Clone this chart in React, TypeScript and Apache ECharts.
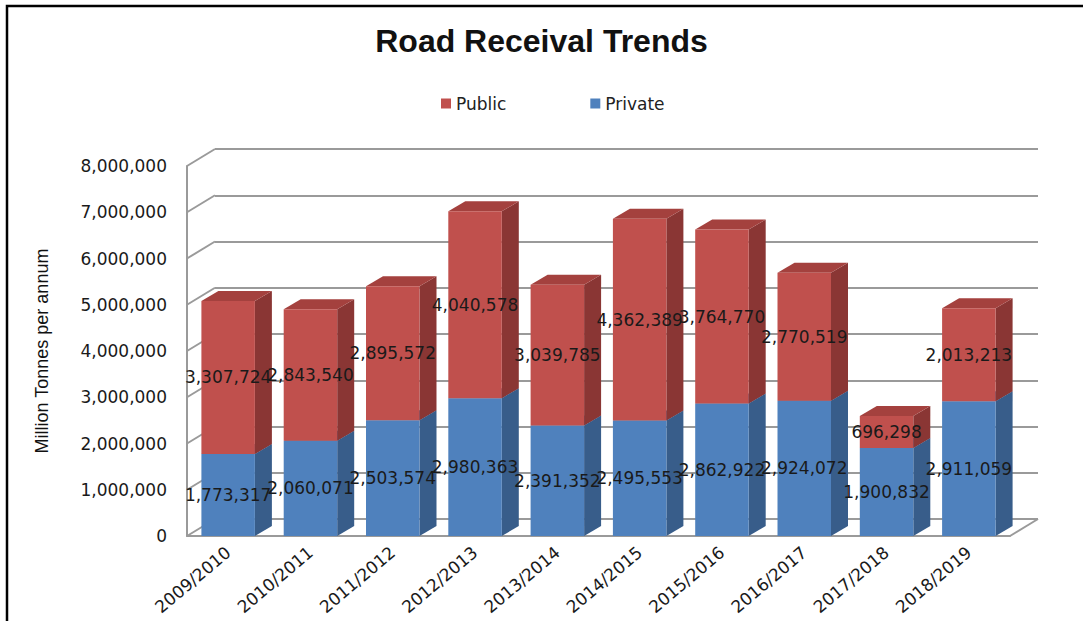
import React, { useEffect, useRef } from "react";
import * as echarts from "echarts";

// Road receivals per financial year (tonnes)
const years = [
  "2009/2010", "2010/2011", "2011/2012", "2012/2013", "2013/2014",
  "2014/2015", "2015/2016", "2016/2017", "2017/2018", "2018/2019",
];
const privateTonnes = [
  1773317, 2060071, 2503574, 2980363, 2391352,
  2495553, 2862922, 2924072, 1900832, 2911059,
];
const publicTonnes = [
  3307724, 2843540, 2895572, 4040578, 3039785,
  4362389, 3764770, 2770519, 696298, 2013213,
];
const yTicks = [0, 1000000, 2000000, 3000000, 4000000, 5000000, 6000000, 7000000, 8000000];

// Depth of the box faces and of the back wall, in pixels
const BAR_DX = 17;
const BAR_DY = 10;
const WALL_DX = 28;
const WALL_DY = 17;

const RED = { front: "#C0504D", side: "#8A3634", top: "#A4413E" };
const BLUE = { front: "#4F81BD", side: "#385D8A", top: "#41699C" };

const fmt = (v: number) => v.toLocaleString("en-US");

function boxRenderer(colors: { front: string; side: string; top: string }) {
  return (_params: any, api: any) => {
    const i = api.value(0);
    const base = api.value(1);
    const val = api.value(2);
    const p0 = api.coord([i, base]);
    const p1 = api.coord([i, base + val]);
    const w = api.size([1, 0])[0] * 0.65;
    const x0 = p0[0] - w / 2;
    const x1 = p0[0] + w / 2;
    const yb = p0[1];
    const yt = p1[1];
    return {
      type: "group",
      children: [
        {
          type: "polygon",
          shape: { points: [[x1, yb], [x1, yt], [x1 + BAR_DX, yt - BAR_DY], [x1 + BAR_DX, yb - BAR_DY]] },
          style: { fill: colors.side },
        },
        {
          type: "polygon",
          shape: { points: [[x0, yt], [x1, yt], [x1 + BAR_DX, yt - BAR_DY], [x0 + BAR_DX, yt - BAR_DY]] },
          style: { fill: colors.top },
        },
        {
          type: "rect",
          shape: { x: x0, y: yt, width: w, height: yb - yt },
          style: { fill: colors.front },
        },
        {
          type: "text",
          z2: 100,
          x: p0[0],
          y: (yb + yt) / 2,
          style: {
            text: fmt(val),
            fill: "#1a1a1a",
            font: '17px "DejaVu Sans"',
            align: "center",
            verticalAlign: "middle",
          },
        },
      ],
    };
  };
}

export default function App() {
  const ref = useRef<HTMLDivElement>(null);

  useEffect(() => {
    document.body.style.margin = "0";
    if (!ref.current) return;
    const chart = echarts.init(ref.current, null, { renderer: "svg" });

    const privateData = years.map((_, i) => [i, 0, privateTonnes[i]]);
    const publicData = years.map((_, i) => [i, privateTonnes[i], publicTonnes[i]]);
    const n = years.length;

    chart.setOption({
      animation: false,
      backgroundColor: "#ffffff",
      title: {
        text: "Road Receival Trends",
        left: "center",
        top: 20,
        textStyle: { fontFamily: "Liberation Sans", fontWeight: "bold", fontSize: 32, color: "#111" },
      },
      legend: {
        data: ["Public", "Private"],
        left: 436,
        top: 90,
        icon: "rect",
        itemWidth: 10,
        itemHeight: 10,
        itemGap: 84,
        textStyle: { fontFamily: "DejaVu Sans", fontSize: 17, color: "#222" },
      },
      graphic: [
        {
          type: "rect",
          shape: { x: 7, y: 6, width: 1300, height: 800 },
          style: { fill: "none", stroke: "#000", lineWidth: 2.5 },
          silent: true,
        },
      ],
      grid: [
        { left: 187, right: 73, top: 166, bottom: 85 },
        { left: 187 + WALL_DX, right: 73 - WALL_DX, top: 166 - WALL_DY, bottom: 85 + WALL_DY },
      ],
      xAxis: [
        {
          type: "category",
          gridIndex: 0,
          data: years,
          axisTick: { show: false },
          axisLine: { show: true, lineStyle: { color: "#9a9a9a", width: 2 } },
          axisLabel: {
            rotate: 40,
            margin: 14,
            fontFamily: "DejaVu Sans",
            fontSize: 17,
            color: "#1a1a1a",
          },
        },
        {
          type: "category",
          gridIndex: 1,
          data: years,
          show: false,
        },
      ],
      yAxis: [
        {
          type: "value",
          gridIndex: 0,
          min: 0,
          max: 8000000,
          interval: 1000000,
          name: "Million Tonnes per annum",
          nameLocation: "middle",
          nameGap: 136,
          nameTextStyle: { fontFamily: "Liberation Sans", fontSize: 18, color: "#111" },
          axisLine: { show: true, lineStyle: { color: "#9a9a9a", width: 2 } },
          axisTick: { show: false },
          splitLine: { show: false },
          axisLabel: {
            margin: 20,
            fontFamily: "DejaVu Sans",
            fontSize: 17,
            color: "#1a1a1a",
            formatter: (v: number) => fmt(v),
          },
        },
        {
          type: "value",
          gridIndex: 1,
          min: 0,
          max: 8000000,
          interval: 1000000,
          axisLine: { show: false },
          axisTick: { show: false },
          axisLabel: { show: false },
          splitLine: { show: true, lineStyle: { color: "#9a9a9a", width: 2 } },
        },
      ],
      series: [
        {
          // side-wall connectors between the front axis and the back wall
          type: "custom",
          name: "frame",
          xAxisIndex: 0,
          yAxisIndex: 0,
          silent: true,
          data: yTicks.map((v) => [v]),
          renderItem: (_p: any, api: any) => {
            const v = api.value(0);
            const w = api.size([1, 0])[0];
            const left = api.coord([0, v]);
            const right = api.coord([n - 1, v]);
            const lx = left[0] - w / 2;
            const rx = right[0] + w / 2;
            const children: any[] = [
              {
                type: "line",
                shape: { x1: lx, y1: left[1], x2: lx + WALL_DX, y2: left[1] - WALL_DY },
                style: { stroke: "#9a9a9a", lineWidth: 2 },
              },
            ];
            if (v === 0) {
              children.push({
                type: "line",
                shape: { x1: rx, y1: right[1], x2: rx + WALL_DX, y2: right[1] - WALL_DY },
                style: { stroke: "#9a9a9a", lineWidth: 2 },
              });
            }
            return { type: "group", children };
          },
          z: 1,
        },
        {
          type: "custom",
          name: "Private",
          xAxisIndex: 0,
          yAxisIndex: 0,
          itemStyle: { color: BLUE.front },
          data: privateData,
          renderItem: boxRenderer(BLUE),
          z: 2,
        },
        {
          type: "custom",
          name: "Public",
          xAxisIndex: 0,
          yAxisIndex: 0,
          itemStyle: { color: RED.front },
          data: publicData,
          renderItem: boxRenderer(RED),
          z: 2,
        },
      ],
    });

    return () => chart.dispose();
  }, []);

  return <div ref={ref} style={{ width: 1083, height: 621 }} />;
}
